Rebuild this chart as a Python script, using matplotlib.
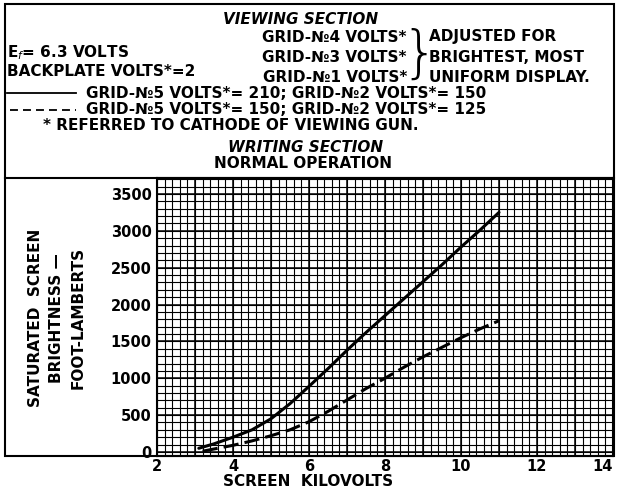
import numpy as np
import matplotlib
matplotlib.use("Agg")
import matplotlib.pyplot as plt
from matplotlib.ticker import MultipleLocator
from matplotlib.lines import Line2D
from matplotlib.patches import Rectangle

W, H = 620, 488

# curve readings (screen kilovolts vs. foot-lamberts)
kv_solid = [3.1, 3.5, 4.0, 4.5, 5.0, 5.5, 6.0, 6.5, 7.0, 7.5, 8.0, 8.5, 9.0, 9.5, 10.0, 10.5, 11.0]
fl_solid = [50, 110, 200, 300, 450, 655, 890, 1130, 1380, 1620, 1850, 2080, 2310, 2540, 2780, 3010, 3250]
kv_dash = [3.2, 3.5, 4.0, 4.5, 5.0, 5.5, 6.0, 6.5, 7.0, 7.5, 8.0, 8.5, 9.0, 9.5, 10.0, 10.5, 11.0]
fl_dash = [10, 40, 90, 150, 220, 300, 410, 550, 705, 860, 1000, 1150, 1290, 1420, 1550, 1670, 1780]

x_ticks = [2, 4, 6, 8, 10, 12, 14]
y_ticks = [0, 500, 1000, 1500, 2000, 2500, 3000, 3500]

FONT = dict(family="DejaVu Sans", fontweight="bold", fontsize=11)
TICKFONT = dict(family="DejaVu Sans", fontweight="bold", fontsize=10.5)


def px(x, y):
    return x / W, 1 - y / H


fig = plt.figure(figsize=(W / 100, H / 100), dpi=100)

# plot area in pixels: x 157..613, y 178..456
l, b = px(157, 456)
r, t = px(613, 178)
ax = fig.add_axes([l, b, r - l, t - b])

ax.plot(kv_solid, fl_solid, color="black", lw=2.2, solid_capstyle="round")
ax.plot(kv_dash, fl_dash, color="black", lw=2.2, dashes=(5, 2))

ax.set_xlim(2, 14)
ax.set_ylim(-55, 3717)
ax.set_xticks(x_ticks)
ax.set_yticks(y_ticks)
ax.xaxis.set_minor_locator(MultipleLocator(0.2))
ax.yaxis.set_minor_locator(MultipleLocator(100))
ax.set_xticklabels([str(v) for v in x_ticks], **TICKFONT)
ax.set_yticklabels([str(v) for v in y_ticks], **TICKFONT)
ax.get_xticklabels()[-1].set_ha("right")
ax.tick_params(which="both", length=0, pad=4)
ax.tick_params(axis="x", pad=2.5)
ax.grid(which="both", color="black", lw=0.8)
for v in np.arange(2, 14, 1):
    ax.axvline(v, color="black", lw=1.1, zorder=0.5)
for v in np.arange(0, 3700, 500):
    ax.axhline(v, color="black", lw=1.1, zorder=0.5)
ax.set_axisbelow(True)
for s in ax.spines.values():
    s.set_linewidth(1.5)

fig.text(*px(308, 481), "SCREEN  KILOVOLTS", ha="center", va="center", **FONT)

fig.text(*px(57, 318), "SATURATED  SCREEN\nBRIGHTNESS —\nFOOT-LAMBERTS",
         rotation=90, ha="center", va="center", multialignment="center",
         linespacing=1.55, **FONT)

# outer frame and header separator
fig.add_artist(Rectangle(px(5, 456), (614 - 5) / W, (456 - 4) / H,
                         transform=fig.transFigure, fill=False, lw=1.5, color="black"))
fig.add_artist(Line2D([5 / W, 614 / W], [1 - 178 / H] * 2, transform=fig.transFigure,
                      color="black", lw=1.5))

# header text
fig.text(*px(301, 20), "VIEWING SECTION", ha="center", va="center",
         style="italic", **FONT)
for yy, g in zip([38, 58, 77], ["4", "3", "1"]):
    fig.text(*px(407, yy), "GRID-№%s VOLTS*" % g, ha="right", va="center", **FONT)
fig.text(*px(420, 55), "}", ha="center", va="center", fontsize=41,
         family="DejaVu Sans", fontweight="light")
for yy, s in zip([37, 58, 77], ["ADJUSTED FOR", "BRIGHTEST, MOST", "UNIFORM DISPLAY."]):
    fig.text(*px(429, yy), s, ha="left", va="center", **FONT)

fig.text(*px(7, 53), r"E$_f$= 6.3 VOLTS", ha="left", va="center", **FONT)
fig.text(*px(7, 71), "BACKPLATE VOLTS*=2", ha="left", va="center", **FONT)

fig.add_artist(Line2D([7 / W, 76 / W], [1 - 93 / H] * 2, transform=fig.transFigure,
                      color="black", lw=1.3))
fig.text(*px(86, 93), "GRID-№5 VOLTS*= 210; GRID-№2 VOLTS*= 150",
         ha="left", va="center", **FONT)
fig.add_artist(Line2D([10 / W, 76 / W], [1 - 110 / H] * 2, transform=fig.transFigure,
                      color="black", lw=1.3, dashes=(4.4, 2.8)))
fig.text(*px(86, 110), "GRID-№5 VOLTS*= 150; GRID-№2 VOLTS*= 125",
         ha="left", va="center", **FONT)
fig.text(*px(43, 126), "* REFERRED TO CATHODE OF VIEWING GUN.",
         ha="left", va="center", **FONT)
fig.text(*px(306, 147), "WRITING SECTION", ha="center", va="center",
         style="italic", **FONT)
fig.text(*px(303, 163), "NORMAL OPERATION", ha="center", va="center", **FONT)

fig.savefig("out.png", dpi=100)
